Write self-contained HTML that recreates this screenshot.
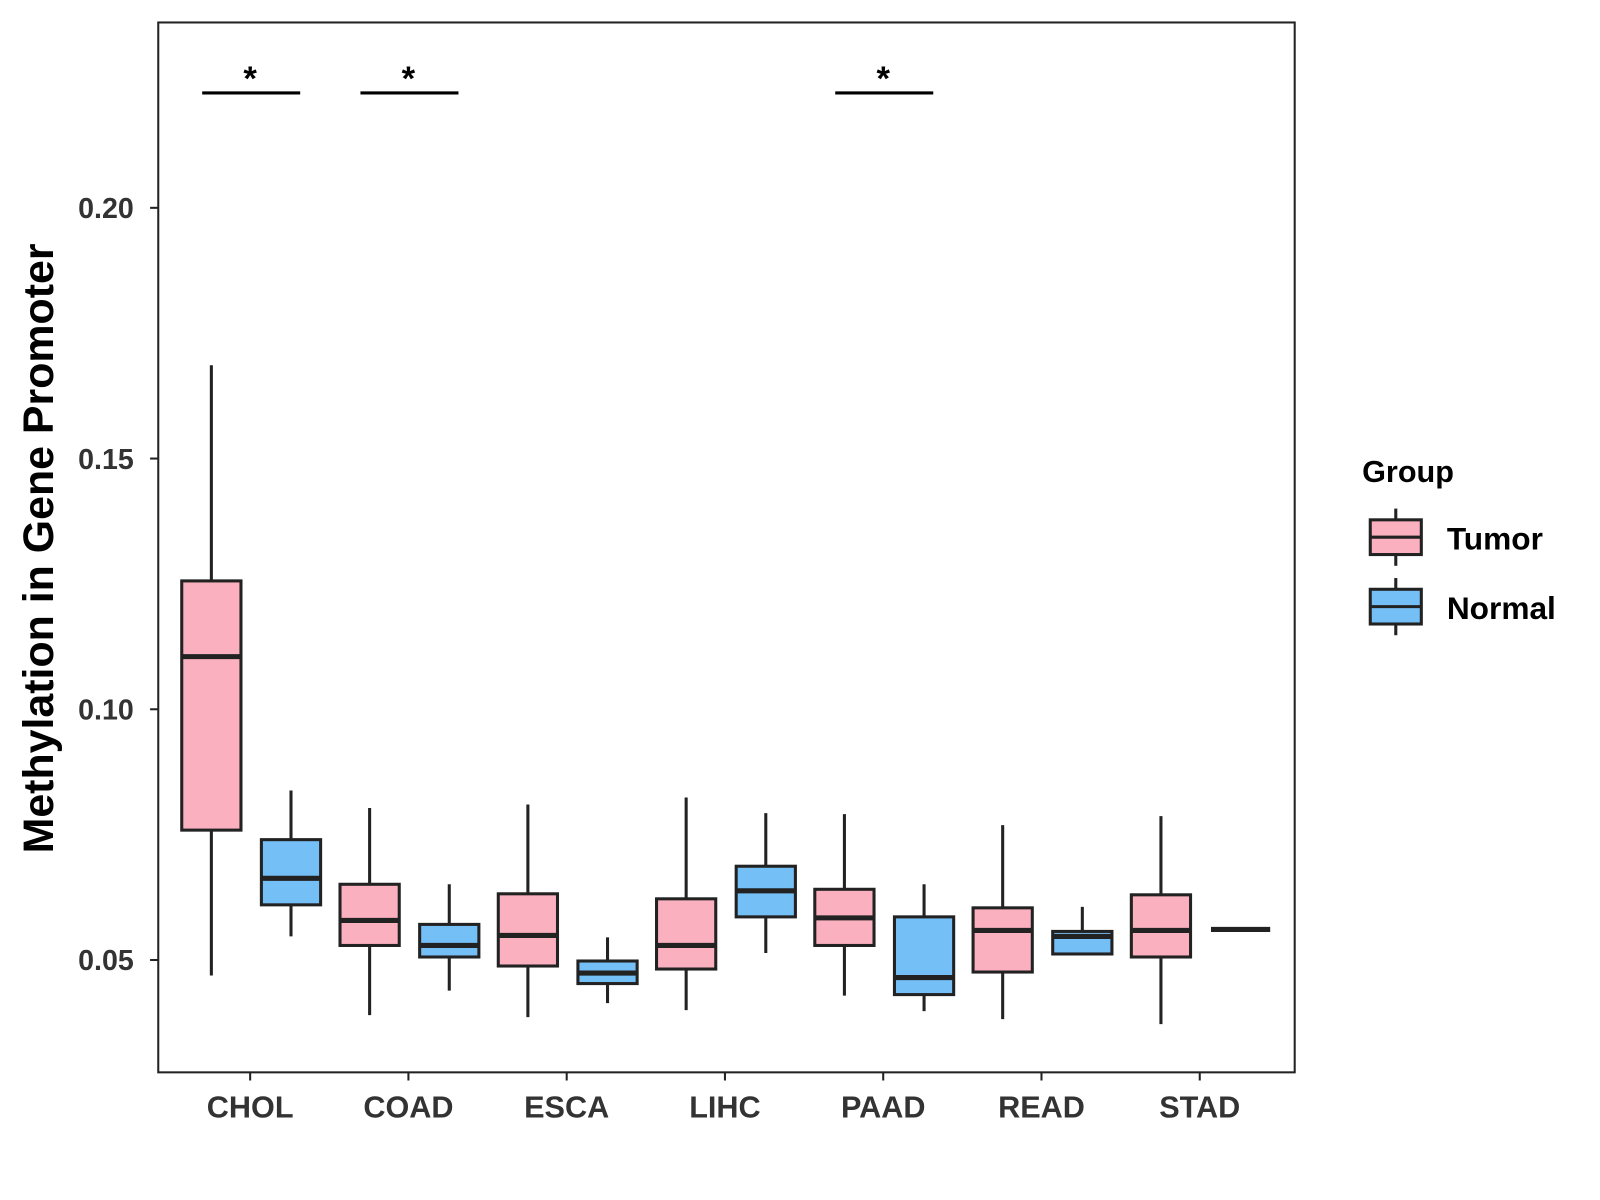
<!DOCTYPE html>
<html><head><meta charset="utf-8">
<style>
html,body{margin:0;padding:0;background:#fff;}
svg{display:block;font-family:"Liberation Sans",Arial,sans-serif;}
</style></head>
<body>
<svg id="chart" width="1600" height="1200" viewBox="0 0 1567 1175" preserveAspectRatio="none" xmlns="http://www.w3.org/2000/svg">
<rect x="155" y="22" width="1113" height="1028" fill="#fff" stroke="#222" stroke-width="2"/>
<g id="marks"></g>
<g id="axes"></g>
<text transform="translate(52,537) rotate(-90)" text-anchor="middle" font-size="42" font-weight="bold" fill="#000">Methylation in Gene Promoter</text>
<g>
<text x="1334" y="472" font-size="30" font-weight="bold" fill="#000">Group</text>
<g>
<line x1="1367" y1="498" x2="1367" y2="554" stroke="#222" stroke-width="3"/>
<rect x="1342" y="509" width="50" height="34" fill="#FBB0C0" stroke="#222" stroke-width="3"/>
<line x1="1342" y1="526" x2="1392" y2="526" stroke="#222" stroke-width="3"/>
<text x="1417" y="538" font-size="31" font-weight="bold" fill="#000">Tumor</text>
</g>
<g>
<line x1="1367" y1="566" x2="1367" y2="622" stroke="#222" stroke-width="3"/>
<rect x="1342" y="577" width="50" height="34" fill="#75BFF7" stroke="#222" stroke-width="3"/>
<line x1="1342" y1="594" x2="1392" y2="594" stroke="#222" stroke-width="3"/>
<text x="1417" y="606" font-size="31" font-weight="bold" fill="#000">Normal</text>
</g>
</g>
</svg>
<script>
const categories = ["CHOL","COAD","ESCA","LIHC","PAAD","READ","STAD"];
// [lowWhisker, Q1, median, Q3, highWhisker]
const tumorStats = [
 [0.0469,0.0759,0.1105,0.1256,0.1686],
 [0.0390,0.0529,0.0579,0.0651,0.0803],
 [0.0386,0.0488,0.0549,0.0632,0.0810],
 [0.0400,0.0482,0.0529,0.0622,0.0824],
 [0.0429,0.0529,0.0584,0.0641,0.0791],
 [0.0382,0.0476,0.0559,0.0604,0.0769],
 [0.0372,0.0506,0.0559,0.0630,0.0787]
];
const normalStats = [
 [0.0547,0.0610,0.0663,0.0740,0.0838],
 [0.0439,0.0506,0.0529,0.0571,0.0651],
 [0.0414,0.0453,0.0474,0.0498,0.0545],
 [0.0514,0.0586,0.0638,0.0687,0.0793],
 [0.0398,0.0431,0.0465,0.0586,0.0651],
 [0.0512,0.0512,0.0547,0.0557,0.0606],
 [0.0561,0.0561,0.0561,0.0561,0.0561]
];
const significant = ["CHOL","COAD","PAAD"];
const yTicks = [0.05,0.10,0.15,0.20];
const yTickLabels = ["0.05","0.10","0.15","0.20"];

const NS="http://www.w3.org/2000/svg";
function y(v){return 940-(v-0.05)/0.05*245.5;}
function x(i){return 245+i*155;}
const marks=document.getElementById('marks');
const axes=document.getElementById('axes');
function mk(tag,attrs,parent){const e=document.createElementNS(NS,tag);for(const k in attrs)e.setAttribute(k,attrs[k]);parent.appendChild(e);return e;}

function drawBox(cx,s,fill,name){
  const g=mk('g',{},marks);
  
  
  const w=58;
  mk('line',{x1:cx,x2:cx,y1:y(s[4]),y2:y(s[0]),stroke:'#222','stroke-width':3},g);
  mk('rect',{x:cx-w/2,y:y(s[3]),width:w,height:Math.max(0,y(s[1])-y(s[3])),fill:fill,stroke:'#222','stroke-width':3},g);
  mk('line',{x1:cx-w/2,x2:cx+w/2,y1:y(s[2]),y2:y(s[2]),stroke:'#222','stroke-width':5},g);
}
categories.forEach((c,i)=>{
  drawBox(x(i)-38,tumorStats[i],'#FBB0C0','box-'+c.toLowerCase()+'-tumor');
  drawBox(x(i)+40,normalStats[i],'#75BFF7','box-'+c.toLowerCase()+'-normal');
  const t=mk('line',{x1:x(i),x2:x(i),y1:1050,y2:1058,stroke:'#222','stroke-width':2},axes);
  
  
  const l=mk('text',{x:x(i),y:1094,'text-anchor':'middle','font-size':30,'font-weight':'bold',fill:'#333'},axes);
  
  
  l.textContent=c;
  if(significant.includes(c)){
    const g=mk('g',{},marks);
    
    
    mk('line',{x1:x(i)-47,x2:x(i)+49,y1:91,y2:91,stroke:'#000','stroke-width':3},g);
    const s=mk('text',{x:x(i),y:88,'text-anchor':'middle','font-size':34,'font-weight':'bold',fill:'#000'},g);
    s.textContent='*';
  }
});
yTicks.forEach((v,i)=>{
  const t=mk('line',{x1:147,x2:155,y1:y(v),y2:y(v),stroke:'#222','stroke-width':2},axes);
  
  
  const l=mk('text',{x:131,y:y(v)+10,'text-anchor':'end','font-size':28,'font-weight':'bold',fill:'#333'},axes);
  
  
  l.textContent=yTickLabels[i];
});
</script>
</body></html>
